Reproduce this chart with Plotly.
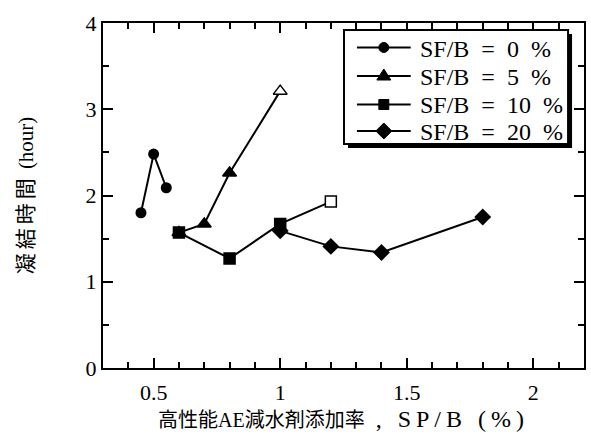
import plotly.graph_objects as go

# data
sf0_x = [0.45, 0.50, 0.55]
sf0_y = [1.80, 2.48, 2.09]
sf5_x = [0.60, 0.70, 0.80, 1.00]
sf5_y = [1.57, 1.67, 2.26, 3.21]
sf10_x = [0.60, 0.80, 1.00, 1.20]
sf10_y = [1.57, 1.27, 1.67, 1.93]
sf20_x = [1.00, 1.20, 1.40, 1.80]
sf20_y = [1.59, 1.41, 1.34, 1.75]
names = ["SF/B = 0 %", "SF/B = 5 %", "SF/B = 10 %", "SF/B = 20 %"]

SERIF = '"Liberation Serif", "Times New Roman", "Noto Sans CJK JP", serif'

W, H = 591, 443
ML, MR, MT, MB = 103, 5, 23, 75
PW, PH = W - ML - MR, H - MT - MB


def px(x):
    return (x - ML) / PW


def py(y):
    return (H - MB - y) / PH


fig = go.Figure()
fig.add_trace(go.Scatter(x=sf0_x, y=sf0_y, name=names[0], mode="lines+markers",
                         line=dict(color="black", width=2),
                         marker=dict(symbol="circle", size=11, color="black")))
fig.add_trace(go.Scatter(x=sf5_x, y=sf5_y, name=names[1], mode="lines+markers",
                         line=dict(color="black", width=2),
                         marker=dict(symbol="triangle-up", size=12,
                                     color=["black", "black", "black", "white"],
                                     line=dict(color="black", width=1.5))))
fig.add_trace(go.Scatter(x=sf10_x, y=sf10_y, name=names[2], mode="lines+markers",
                         line=dict(color="black", width=2),
                         marker=dict(symbol="square", size=11,
                                     color=["black", "black", "black", "white"],
                                     line=dict(color="black", width=1.5))))
fig.add_trace(go.Scatter(x=sf20_x, y=sf20_y, name=names[3], mode="lines+markers",
                         line=dict(color="black", width=2),
                         marker=dict(symbol="diamond", size=13, color="black")))

# ---- hand-drawn legend (box with drop shadow) ----
shapes = []
bx0, by0, bx1, by1 = 345, 30, 570, 144
shapes.append(dict(type="rect", xref="paper", yref="paper",
                   x0=px(bx0 + 4), x1=px(bx1 + 4), y0=py(by1 + 4), y1=py(by0 + 4),
                   fillcolor="black", line=dict(width=0), layer="above"))
shapes.append(dict(type="rect", xref="paper", yref="paper",
                   x0=px(bx0), x1=px(bx1), y0=py(by1), y1=py(by0),
                   fillcolor="white", line=dict(color="black", width=2), layer="above"))
rows = [47.5, 76, 104.5, 131]
lx0, lx1, mx = 358, 412, 385
for r in rows:
    shapes.append(dict(type="line", xref="paper", yref="paper",
                       x0=px(lx0), x1=px(lx1), y0=py(r), y1=py(r),
                       line=dict(color="black", width=2), layer="above"))


def path(points):
    return "M" + "L".join(f"{px(a):.5f},{py(b):.5f}" for a, b in points) + "Z"


black = dict(fillcolor="black", line=dict(color="black", width=1), layer="above",
             xref="paper", yref="paper")
r0 = rows[0]
shapes.append(dict(type="circle", x0=px(mx - 5), x1=px(mx + 5), y0=py(r0 + 5), y1=py(r0 - 5), **black))
r1 = rows[1]
shapes.append(dict(type="path", path=path([(mx - 7, r1 + 4), (mx + 7, r1 + 4), (mx, r1 - 7)]), **black))
r2 = rows[2]
shapes.append(dict(type="rect", x0=px(mx - 5), x1=px(mx + 5), y0=py(r2 + 5), y1=py(r2 - 5), **black))
r3 = rows[3]
shapes.append(dict(type="path", path=path([(mx - 8, r3), (mx, r3 - 8), (mx + 8, r3), (mx, r3 + 8)]), **black))

annotations = []
for r, n in zip(rows, names):
    annotations.append(dict(xref="paper", yref="paper", x=px(419), y=py(r + 1),
                            xanchor="left", yanchor="middle", showarrow=False,
                            text=n.replace(" ", "\u00a0\u00a0"),
                            font=dict(family=SERIF, size=24, color="black")))

axis_common = dict(showline=True, linecolor="black", linewidth=2, mirror="allticks",
                   ticks="inside", tickcolor="black", tickwidth=2, ticklen=10,
                   showgrid=False, zeroline=False,
                   tickfont=dict(family=SERIF, size=22, color="black"))

x_title = ('高性能AE減水剤添加率'
           '<span style="font-size:24px;letter-spacing:5px"> , SP/B (%)</span>')
y_title = '<span style="letter-spacing:4px">凝結時間</span> (hour)'

fig.update_xaxes(range=[0.3, 2.2], tickvals=[0.5, 1, 1.5, 2], ticktext=["0.5", "1", "1.5", "2"],
                 minor=dict(ticks="inside", dtick=0.1, tick0=0, ticklen=6, tickwidth=2, tickcolor="black"),
                 ticklabelstandoff=4,
                 title=dict(text=x_title, font=dict(family=SERIF, size=20, color="black"),
                            standoff=9),
                 **axis_common)
fig.update_yaxes(range=[0, 4], tickvals=[0, 1, 2, 3, 4],
                 minor=dict(ticks="inside", dtick=0.5, tick0=0, ticklen=6, tickwidth=2, tickcolor="black"),
                 title=dict(text=y_title, font=dict(family=SERIF, size=21, color="black"),
                            standoff=46),
                 **axis_common)

fig.update_layout(
    width=W, height=H,
    margin=dict(l=ML, r=MR, t=MT, b=MB),
    plot_bgcolor="white", paper_bgcolor="white",
    showlegend=False,
    shapes=shapes,
    annotations=annotations,
)

fig.write_html("out.html")
